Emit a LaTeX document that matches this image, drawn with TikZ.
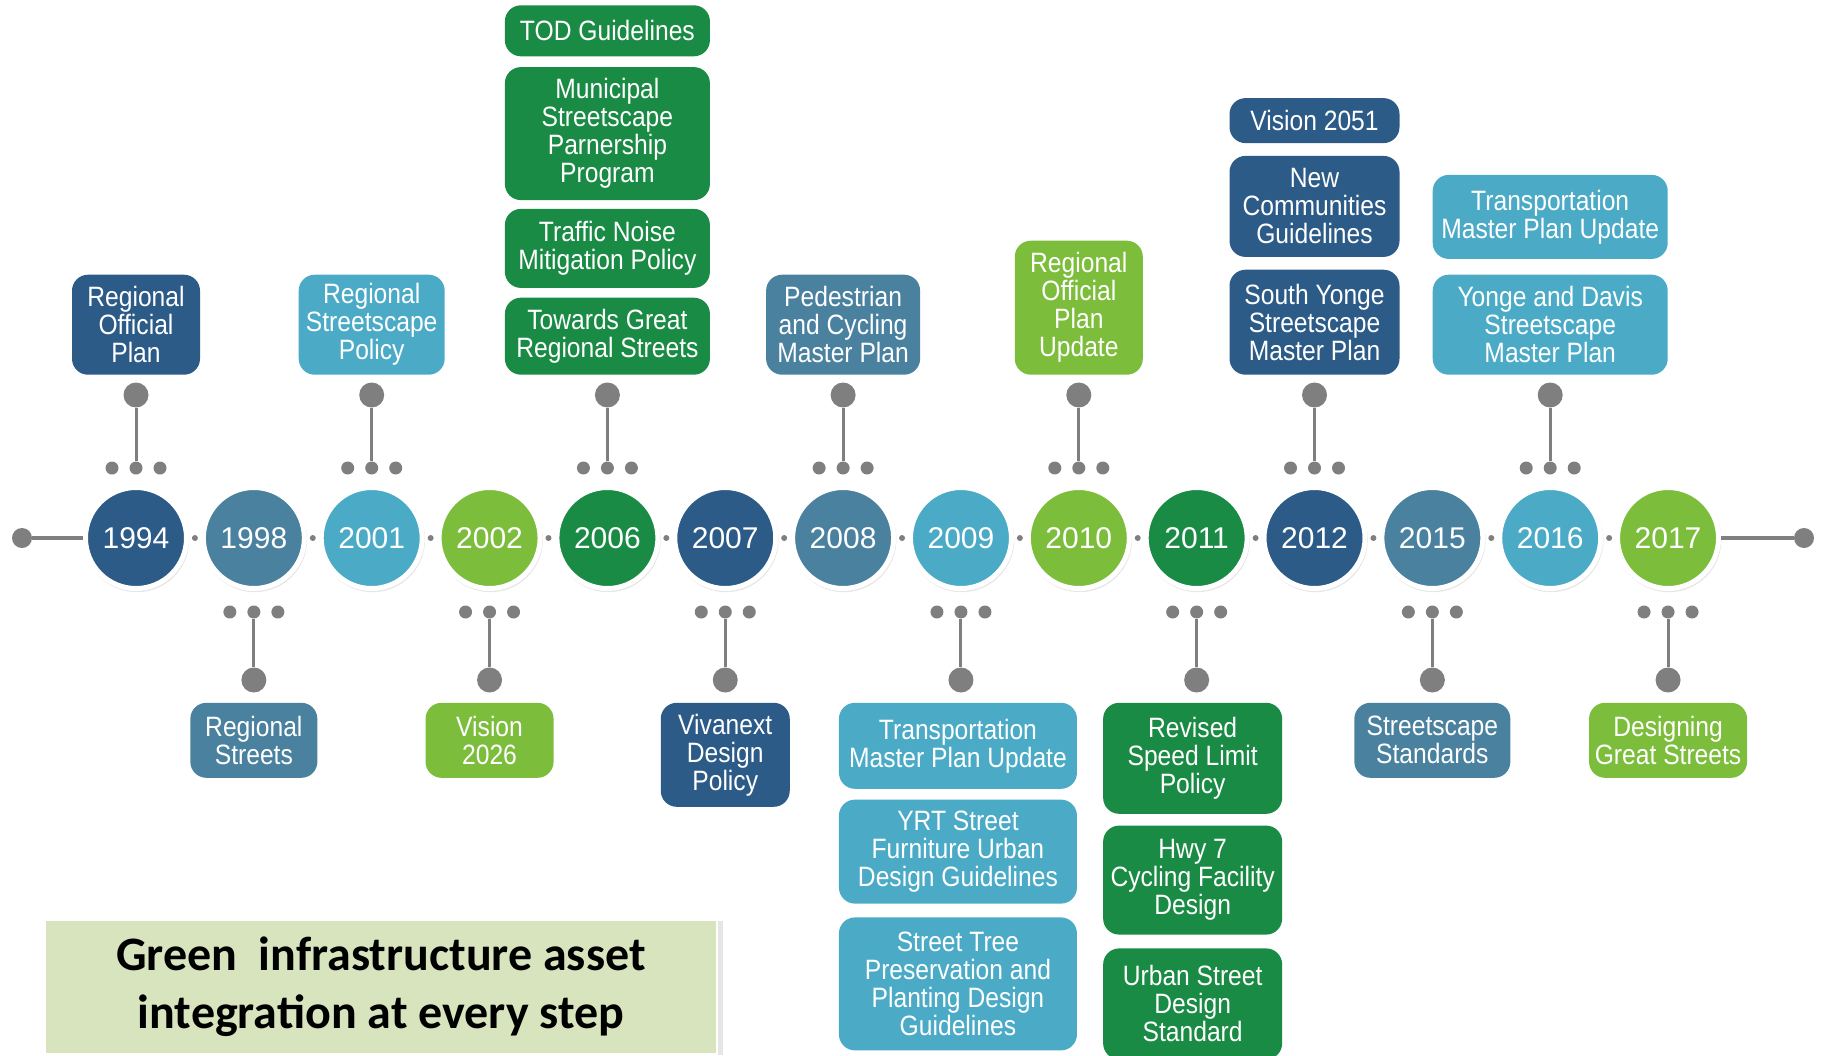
\documentclass[tikz,border=0pt]{standalone}
\usepackage{fontspec}
\setmainfont{Liberation Sans}
\newfontfamily\narrowfont{Liberation Sans}[FakeStretch=0.88]
\newfontfamily\capfont{Carlito}
\usetikzlibrary{positioning, shadows}

\definecolor{ynavy}{HTML}{2C5B87}
\definecolor{ysteel}{HTML}{4A819F}
\definecolor{yteal}{HTML}{4BABC6}
\definecolor{ylime}{HTML}{7CBD3C}
\definecolor{yforest}{HTML}{1A8B45}
\definecolor{capfill}{HTML}{D7E4BD}
\definecolor{pingray}{HTML}{7F7F7F}

\begin{document}
\begin{tikzpicture}[
        x=0.5pt, y=-0.5pt,
        year/.style={circle, draw=white, line width=2.5pt, minimum size=50.5pt, inner sep=0pt, text=white,
            font=\fontsize{15}{15}\selectfont, drop shadow={shadow xshift=0.4pt, shadow yshift=-0.8pt, shadow scale=1.04, opacity=0.2, fill=gray}},
        card/.style={rounded corners=8pt, align=center, text=white, inner sep=2pt, font=\narrowfont\fontsize{14}{14}\selectfont},
        box/.style n args={3}{card, fill=#1, minimum width=#2, minimum height=#3},
        tick/.style={circle, fill=pingray, minimum size=6.5pt, inner sep=0pt},
        pin/.style={circle, fill=pingray, minimum size=12.5pt, inner sep=0pt},
        gap/.style={circle, fill=pingray, minimum size=3pt, inner sep=0pt},
        stem/.style={pingray, line width=1.5pt}
    ]
    \useasboundingbox (0,0) rectangle (1826,1055);

    % Timeline: years
    \foreach \yr/\col [count=\i from 0] in {1994/ynavy,1998/ysteel,2001/yteal,2002/ylime,2006/yforest,2007/ynavy,2008/ysteel,
        2009/yteal,2010/ylime,2011/yforest,2012/ynavy,2015/ysteel,2016/yteal,2017/ylime}
        \node[year, fill=\col] (y\yr) at ({136+117.85*\i}, 538) {\yr};

    % Timeline: ends and small dots
    \node[pin, minimum size=10pt] (lend) at (22,538) {};
    \node[pin, minimum size=10pt] (rend) at (1804,538) {};
    \draw[stem, line width=2pt] (lend) -- (y1994);
    \draw[stem, line width=2pt] (y2017) -- (rend);
    \foreach \a/\b in {1994/1998,1998/2001,2001/2002,2002/2006,2006/2007,2007/2008,2008/2009,
        2009/2010,2010/2011,2011/2012,2012/2015,2015/2016,2016/2017}
        \path (y\a) -- node[gap]{} (y\b);

    % Pins above
    \foreach \yr in {1994,2001,2006,2008,2010,2012,2016} {
        \node[tick] (t\yr) at ([yshift=35pt]y\yr.center) {};
        \node[tick] at ([xshift=-12pt]t\yr.center) {};
        \node[tick] at ([xshift=12pt]t\yr.center) {};
        \node[pin] (p\yr) at ([yshift=71.5pt]y\yr.center) {};
        \draw[stem] (t\yr) -- (p\yr);
    }

    % Pins below
    \foreach \yr in {1998,2002,2007,2009,2011,2015,2017} {
        \node[tick] (t\yr) at ([yshift=-37pt]y\yr.center) {};
        \node[tick] at ([xshift=-12pt]t\yr.center) {};
        \node[tick] at ([xshift=12pt]t\yr.center) {};
        \node[pin] (p\yr) at ([yshift=-71pt]y\yr.center) {};
        \draw[stem] (t\yr) -- (p\yr);
    }

    % Upper cards
    \node[box={ynavy}{64pt}{50pt}, above=3.5pt of p1994] (rop) {Regional\\Official\\Plan};
    \node[box={yteal}{73pt}{50pt}, above=3.5pt of p2001] (rsp) {Regional\\Streetscape\\Policy};

    \node[box={yforest}{102.5pt}{38.5pt}, above=3.5pt of p2006] (tgr) {Towards Great\\Regional Streets};
    \node[box={yforest}{102.5pt}{39.5pt}, above=4.5pt of tgr] (tnm) {Traffic Noise\\Mitigation Policy};
    \node[box={yforest}{102.5pt}{66.5pt}, above=4pt of tnm] (msp) {Municipal\\Streetscape\\Parnership\\Program};
    \node[box={yforest}{102.5pt}{25.5pt}, above=5pt of msp] (tod) {TOD Guidelines};

    \node[box={ysteel}{77pt}{50pt}, above=3.5pt of p2008] (pcm) {Pedestrian\\and Cycling\\Master Plan};
    \node[box={ylime}{64pt}{67pt}, above=3.5pt of p2010] (ropu) {Regional\\Official\\Plan\\Update};

    \node[box={ynavy}{85pt}{52.5pt}, above=3.5pt of p2012] (sys) {South Yonge\\Streetscape\\Master Plan};
    \node[box={ynavy}{85pt}{50.5pt}, above=6pt of sys] (ncg) {New\\Communities\\Guidelines};
    \node[box={ynavy}{85pt}{22.5pt}, above=6pt of ncg] (vis) {Vision 2051};

    \node[box={yteal}{117.5pt}{50pt}, above=3.5pt of p2016] (yds) {Yonge and Davis\\Streetscape\\Master Plan};
    \node[box={yteal}{117.5pt}{42pt}, above=7.5pt of yds] (tmu) {Transportation\\Master Plan Update};

    % Lower cards
    \node[box={ysteel}{63.5pt}{37.5pt}, below=4.75pt of p1998] (rs) {Regional\\Streets};
    \node[box={ylime}{64pt}{37.5pt}, below=4.75pt of p2002] (vtw) {Vision\\2026};
    \node[box={ynavy}{64.5pt}{52pt}, below=4.75pt of p2007] (vdp) {Vivanext\\Design\\Policy};

    \node[box={yteal}{119pt}{43pt}, below=4.75pt of p2009, xshift=-1.5pt] (tmp) {Transportation\\Master Plan Update};
    \node[box={yteal}{119pt}{52pt}, below=5pt of tmp] (yrt) {YRT Street\\Furniture Urban\\Design Guidelines};
    \node[box={yteal}{119pt}{66.5pt}, below=6.5pt of yrt] (stp) {Street Tree\\Preservation and\\Planting Design\\Guidelines};

    \node[box={yforest}{89.5pt}{55.5pt}, below=4.75pt of p2011, xshift=-2pt] (rsl) {Revised\\Speed Limit\\Policy};
    \node[box={yforest}{89.5pt}{54.5pt}, below=5.5pt of rsl] (hwy) {Hwy 7\\Cycling Facility\\Design};
    \node[box={yforest}{89.5pt}{55.5pt}, below=6.5pt of hwy] (usd) {Urban Street\\Design\\Standard};

    \node[box={ysteel}{78pt}{37.5pt}, below=4.75pt of p2015] (sst) {Streetscape\\Standards};
    \node[box={ylime}{79pt}{37.5pt}, below=4.75pt of p2017] (dgs) {Designing\\Great Streets};

    % Caption
    \node[fill=capfill, draw=white, line width=0.8pt, minimum width=336pt, minimum height=67pt, align=center,
        font=\capfont\bfseries\fontsize{24}{29}\selectfont,
        drop shadow={shadow xshift=3pt, shadow yshift=-0.5pt, opacity=0.2, fill=gray}] (note) at (381,987)
        {Green\ \ infrastructure asset\\integration at every step};
\end{tikzpicture}
\end{document}
